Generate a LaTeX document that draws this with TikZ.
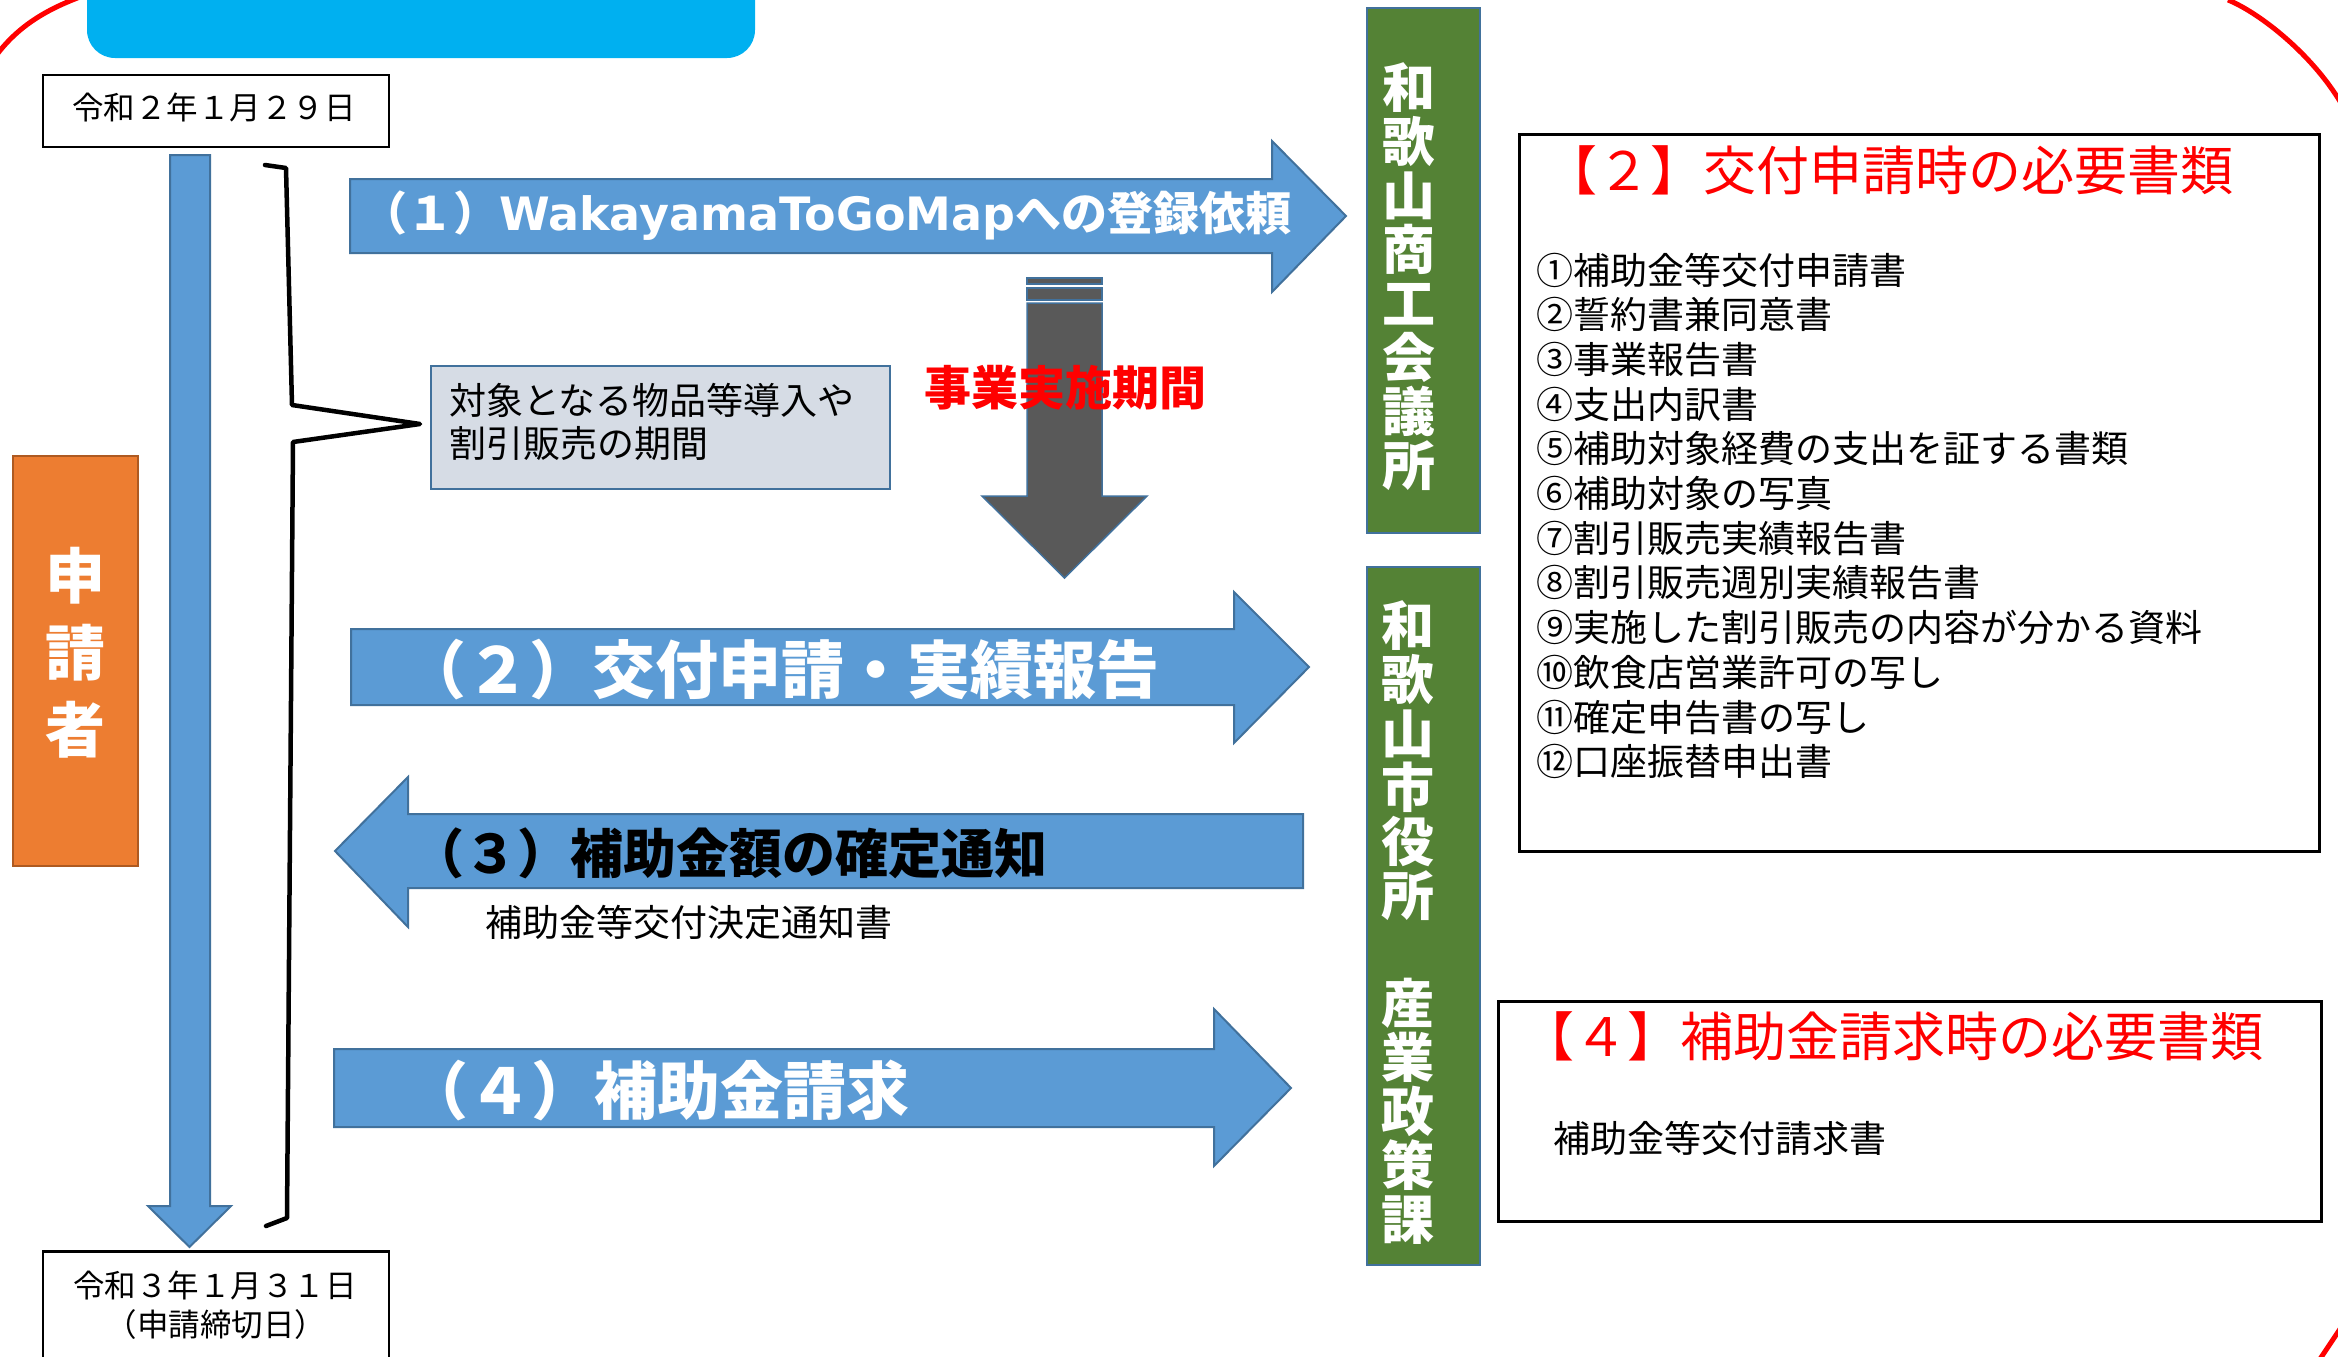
\documentclass[tikz,border=0pt]{standalone}
\usepackage{fontspec}
\newfontfamily\jp{Noto Sans CJK JP}
\newfontfamily\dv{DejaVu Sans}
\definecolor{ablue}{HTML}{5B9BD5}
\definecolor{aedge}{HTML}{41719C}
\definecolor{agreen}{HTML}{548235}
\definecolor{aorange}{HTML}{ED7D31}
\definecolor{aorangeedge}{HTML}{AE5A21}
\definecolor{agrey}{HTML}{D6DCE5}
\definecolor{adark}{HTML}{595959}
\definecolor{acyan}{HTML}{00B0F0}
\definecolor{ared}{HTML}{FF0000}
\tikzset{
  blockarrow/.style={fill=ablue, draw=aedge, line width=2pt, line join=miter},
  darkbar/.style={fill=adark, draw=aedge, line width=1.5pt},
  frame/.style={draw=black, line width=3pt, fill=white, inner sep=0pt},
  datebox/.style={draw=black, line width=2.5pt, fill=white, inner sep=0pt},
  greenbox/.style={fill=agreen, draw=aedge, line width=2pt, inner sep=0pt},
  txt/.style={inner sep=0pt, outer sep=0pt},
  whitebold/.style={txt, text=white, font=\jp\bfseries},
  blackbold/.style={txt, text=black, font=\jp\bfseries},
  plain/.style={txt, text=black, font=\jp},
  redtitle/.style={txt, text=ared, font=\jp\fontsize{53}{58}\selectfont},
  listtxt/.style={txt, text=black, font=\jp\fontsize{37}{42}\selectfont, anchor=west},
  redline/.style={draw=ared, line width=5pt}
}
\begin{document}
\begin{tikzpicture}[x=1pt,y=-1pt]
\useasboundingbox (0,0) rectangle (2338,1357);
\clip (0,0) rectangle (2338,1357);
\fill[white] (0,0) rectangle (2338,1357);

% red frame fragments
\draw[redline] (-5,57) .. controls (15,30) and (40,12) .. (80,-3);
\draw[redline] (2228,0) .. controls (2258,12) and (2315,55) .. (2345,110);
\draw[redline] (2318,1362) -- (2342,1326);

% cyan title bar (cut off)
\fill[acyan, rounded corners=28pt] (87,-80) rectangle (755,58);

% dates
\node[datebox, minimum width=346pt, minimum height=72pt] (d1) at (216,111) {};
\node[plain, font=\jp\fontsize{31.5}{36}\selectfont] (d1t) at (214,107) {令和２年１月２９日};
\node[datebox, minimum width=346pt, minimum height=160pt, anchor=north] (d2) at (216,1250) {};
\node[plain, font=\jp\fontsize{31.5}{36}\selectfont] (d2t) at (215,1285) {令和３年１月３１日};
\node[plain, font=\jp\fontsize{31.5}{36}\selectfont] (d2u) at (216,1325) {（申請締切日）};

% timeline arrow
\draw[blockarrow] (170,155) -- (210,155) -- (210,1206) -- (231,1206) -- (189.5,1247) -- (148,1206) -- (170,1206) -- cycle;

% bracket
\draw[line width=4.5pt, line join=round, line cap=round] (265,165) -- (286,168) -- (292,405) -- (420,424) -- (293,442) -- (287,1218) -- (266,1226);

% applicant box
\node[fill=aorange, draw=aorangeedge, line width=2pt, minimum width=125pt, minimum height=410pt, inner sep=0pt] (app) at (75,661) {};
\node[whitebold, font=\jp\bfseries\fontsize{60}{77}\selectfont, align=center] (appt) at (75,653) {申\\請\\者};

% period box
\node[fill=agrey, draw=aedge, line width=2pt, minimum width=459pt, minimum height=123pt, anchor=north west, inner sep=0pt] (gbox) at (430,365) {};
\node[plain, font=\jp\fontsize{37}{42}\selectfont, anchor=west] (gb1) at (449,400) {対象となる物品等導入や};
\node[plain, font=\jp\fontsize{37}{42}\selectfont, anchor=west] (gb2) at (449,444) {割引販売の期間};

% arrow 1
\draw[blockarrow] (350,179) -- (1272,179) -- (1272,141) -- (1346,216) -- (1272,292) -- (1272,253) -- (350,253) -- cycle;
\node[whitebold, font=\jp\bfseries\fontsize{46}{50}\selectfont, anchor=west] (a1t) at (361,216) {（１）{\dv\bfseries WakayamaToGoMap}への登録依頼};

% dark period arrow
\draw[darkbar] (1027,278) rectangle (1102,284);
\draw[darkbar] (1027,288) rectangle (1102,300);
\draw[darkbar] (1027,303) -- (1102,303) -- (1102,496) -- (1147,496) -- (1064.5,578) -- (982,496) -- (1027,496) -- cycle;
\node[txt, text=ared, font=\jp\bfseries\fontsize{47}{50}\selectfont] (period) at (1065,388) {事業実施期間};

% arrow 2
\draw[blockarrow] (351,629) -- (1234,629) -- (1234,592) -- (1309,667) -- (1234,743) -- (1234,705) -- (351,705) -- cycle;
\node[whitebold, font=\jp\bfseries\fontsize{63}{66}\selectfont, anchor=west] (a2t) at (403,670) {（２）交付申請・実績報告};

% arrow 3
\draw[blockarrow] (1303,814) -- (408,814) -- (408,777) -- (335,851) -- (408,927) -- (408,888) -- (1303,888) -- cycle;
\node[blackbold, font=\jp\bfseries\fontsize{53}{56}\selectfont, anchor=west] (a3t) at (411,853) {（３）補助金額の確定通知};
\node[plain, font=\jp\fontsize{37}{42}\selectfont, anchor=west] (a3u) at (485,922) {補助金等交付決定通知書};

% arrow 4
\draw[blockarrow] (334,1049) -- (1214,1049) -- (1214,1009) -- (1291,1088) -- (1214,1166) -- (1214,1127) -- (334,1127) -- cycle;
\node[whitebold, font=\jp\bfseries\fontsize{63}{66}\selectfont, anchor=west] (a4t) at (405,1090) {（４）補助金請求};

% green boxes
\node[greenbox, minimum width=113pt, minimum height=525pt, anchor=north west] (g1) at (1366,7) {};
\node[whitebold, font=\jp\bfseries\fontsize{53}{54}\selectfont, align=center] (g1t) at (1409,277) {和\\歌\\山\\商\\工\\会\\議\\所};
\node[greenbox, minimum width=113pt, minimum height=698pt, anchor=north west] (g2) at (1366,566) {};
\node[whitebold, font=\jp\bfseries\fontsize{53}{54}\selectfont, align=center] (g2t) at (1408,923) {和\\歌\\山\\市\\役\\所\\　\\産\\業\\政\\策\\課};

% box [2]
\node[frame, minimum width=800pt, minimum height=717pt, anchor=north west] (b2) at (1518,133) {};
\node[redtitle, anchor=west] (b2t) at (1544,170) {【２】交付申請時の必要書類};
\foreach \t [count=\i from 0] in {①補助金等交付申請書, ②誓約書兼同意書, ③事業報告書, ④支出内訳書, ⑤補助対象経費の支出を証する書類, ⑥補助対象の写真, ⑦割引販売実績報告書, ⑧割引販売週別実績報告書, ⑨実施した割引販売の内容が分かる資料, ⑩飲食店営業許可の写し, ⑪確定申告書の写し, ⑫口座振替申出書}
  \node[listtxt] (l\i) at (1536, 270+44.7*\i) {\t};

% box [4]
\node[frame, minimum width=823pt, minimum height=220pt, anchor=north west] (b4) at (1497,1000) {};
\node[redtitle, anchor=west] (b4t) at (1521,1036) {【４】補助金請求時の必要書類};
\node[listtxt] (b4u) at (1553,1138) {補助金等交付請求書};
\end{tikzpicture}
\end{document}
